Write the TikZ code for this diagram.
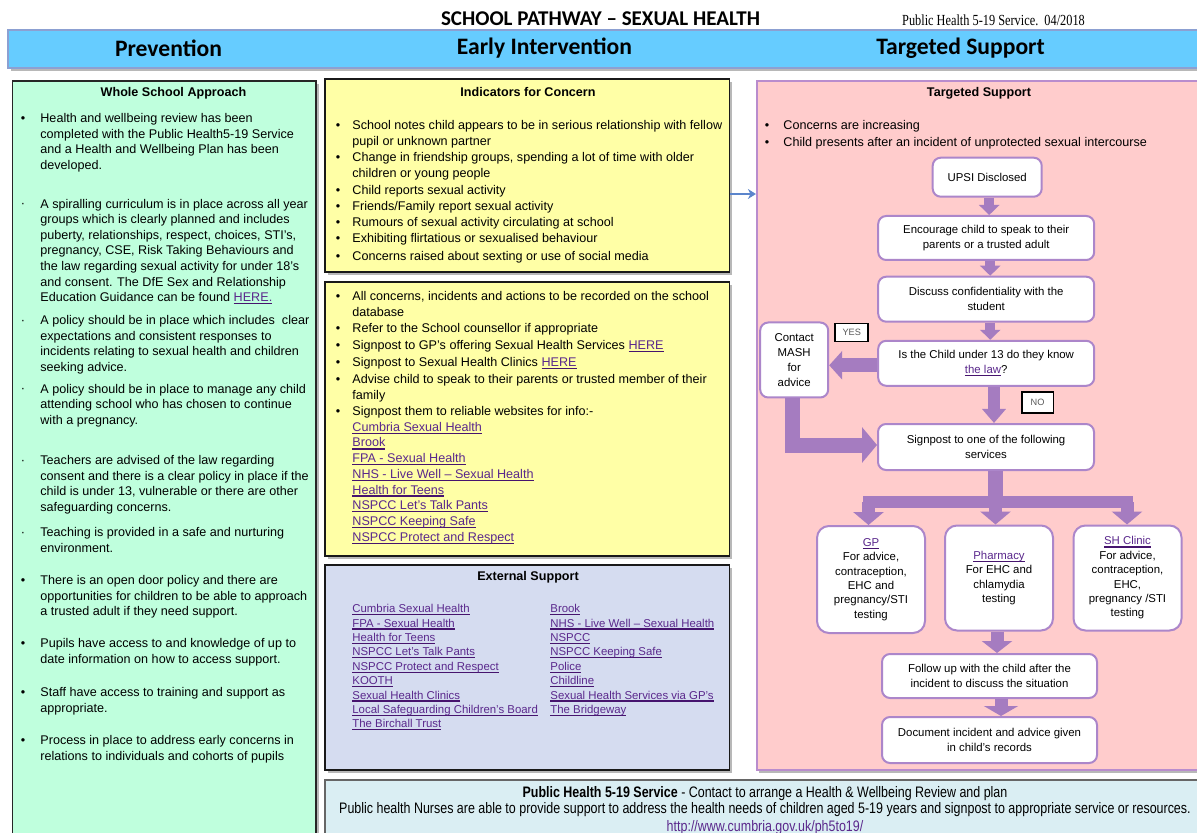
\documentclass[tikz,border=0pt]{standalone}
\usepackage{fontspec}
\setmainfont{Liberation Sans}
\newfontfamily\calb{Carlito}
\newfontfamily\tnr[FakeStretch=0.8]{Liberation Serif}
\newfontfamily\narrow[FakeStretch=0.82]{Liberation Sans}
\usetikzlibrary{arrows.meta,shadows,fit,calc}
\definecolor{bandblue}{RGB}{102,204,255}
\definecolor{bandline}{RGB}{140,160,210}
\definecolor{mint}{RGB}{191,255,221}
\definecolor{yel}{RGB}{255,255,166}
\definecolor{extc}{RGB}{213,220,240}
\definecolor{pinkc}{RGB}{255,204,204}
\definecolor{pinkline}{RGB}{185,140,205}
\definecolor{botc}{RGB}{218,238,243}
\definecolor{lnk}{RGB}{90,40,140}
\definecolor{lnkd}{RGB}{70,20,110}
\definecolor{arrp}{RGB}{165,124,192}
\definecolor{nodep}{RGB}{172,134,202}
\definecolor{bluearr}{RGB}{91,133,204}
\newsavebox\lnkbox
\newcommand\lnk[1]{\sbox\lnkbox{#1}\rlap{\color{lnkd}\rule[-1.3pt]{\wd\lnkbox}{0.6pt}}\textcolor{lnk}{#1}}
\newcommand\smd{\textperiodcentered}
\newcommand\itm[7]{%
  \node[bul,#7] (#1b) at (#2,#4+4.5) {#5};
  \node[txt,#7] (#1) at (#3,#4-5) {#6};}
\tikzset{
  panel/.style={inner sep=0pt, drop shadow={shadow xshift=1.3pt, shadow yshift=-1.3pt, fill=black!55}},
  txt/.style={anchor=north west, inner sep=0pt, align=left},
  bul/.style={anchor=base, inner sep=0pt},
  fL/.style={font=\fontsize{6.3}{7.8}\selectfont},
  fM/.style={font=\fontsize{6.3}{8.1}\selectfont},
  head/.style={inner sep=0pt, font=\bfseries\fontsize{6.3}{7.8}\selectfont},
  colhead/.style={inner sep=0pt, font=\calb\bfseries\fontsize{11.8}{13}\selectfont},
  fnode/.style={draw=nodep, line width=1pt, rounded corners=4pt, fill=white, align=center, inner sep=0pt, font=\fontsize{5.7}{7.5}\selectfont},
  snode/.style={fnode, rounded corners=6pt, font=\fontsize{5.7}{7.2}\selectfont, minimum width=54pt, minimum height=52.5pt},
  tag/.style={draw=black, line width=0.8pt, fill=white, inner sep=0pt, font=\fontsize{4.6}{5}\selectfont, text=black!65},
  blk/.style n args={4}{draw=arrp, line width=#1, -{Triangle[width=#2,length=#3]}, shorten >=#4},
  shaft/.style={draw=arrp, line width=#1},
}
\begin{document}
\begin{tikzpicture}[x=0.5pt,y=-0.5pt]
\fill[white] (0,0) rectangle (1197,833);
\useasboundingbox (0,0) rectangle (1197,833);

% title
\node[inner sep=0pt, font=\calb\bfseries\fontsize{10.5}{12}\selectfont] (title) at (600.5,19) {SCHOOL PATHWAY – SEXUAL HEALTH};
\node[inner sep=0pt, font=\tnr\fontsize{7.7}{8}\selectfont] (date) at (993.5,20.5) {Public Health 5-19 Service.\ \ 04/2018};

% band
\node[panel, fit={(8,30) (1215,68)}, fill=bandblue, draw=bandline, line width=1pt] (band) {};
\node[colhead] (hprev) at (168.5,48.5) {Prevention};
\node[colhead] (hearly) at (544.5,48.5) {Early Intervention};
\node[colhead] (htarget) at (960.5,48.5) {Targeted Support};

% panels
\node[panel, fit={(12.5,81) (316,860)}, fill=mint, draw=black!85, line width=0.7pt] (green) {};
\node[panel, fit={(325,79) (729.5,272)}, fill=yel, draw=black!90, line width=0.8pt] (ind) {};
\node[panel, fit={(325,282) (729.5,556)}, fill=yel, draw=black!90, line width=0.8pt] (act) {};
\node[panel, fit={(325,565) (729.5,770)}, fill=extc, draw=black!90, line width=0.8pt] (ext) {};
\node[panel, fit={(756.7,81) (1215,770)}, fill=pinkc, draw=pinkline, line width=0.8pt] (ts) {};
\node[panel, fit={(325,780) (1215,860)}, fill=botc, draw=black!60, line width=0.7pt] (bot) {};

% connector between columns
\coordinate (blueY) at (740,194);
\draw[bluearr, line width=1.3pt, -{Stealth[length=4pt,width=5pt]}] (ind.east |- blueY) -- (ts.west |- blueY);

% left column
\node[head] (hwsa) at (173.5,93.3) {Whole School Approach};
\itm{l1}{23}{40}{118}{\textbullet}{Health and wellbeing review has been\\completed with the Public Health5-19 Service\\and a Health and Wellbeing Plan has been\\developed.}{fL}
\itm{l2}{23}{40}{203.5}{\smd}{A spiralling curriculum is in place across all year\\groups which is clearly planned and includes\\puberty, relationships, respect, choices, STI’s,\\pregnancy, CSE, Risk Taking Behaviours and\\the law regarding sexual activity for under 18’s\\and consent. The DfE Sex and Relationship\\Education Guidance can be found \lnk{HERE.}}{fL}
\itm{l3}{23}{40}{320}{\smd}{A policy should be in place which includes\ \ clear\\expectations and consistent responses to\\incidents relating to sexual health and children\\seeking advice.}{fL}
\itm{l4}{23}{40}{388.5}{\smd}{A policy should be in place to manage any child\\attending school who has chosen to continue\\with a pregnancy.}{fL}
\itm{l5}{23}{40}{460}{\smd}{Teachers are advised of the law regarding\\consent and there is a clear policy in place if the\\child is under 13, vulnerable or there are other\\safeguarding concerns.}{fL}
\itm{l6}{23}{40}{532}{\smd}{Teaching is provided in a safe and nurturing\\environment.}{fL}
\itm{l7}{23}{40}{580}{\textbullet}{There is an open door policy and there are\\opportunities for children to be able to approach\\a trusted adult if they need support.}{fL}
\itm{l8}{23}{40}{643}{\textbullet}{Pupils have access to and knowledge of up to\\date information on how to access support.}{fL}
\itm{l9}{23}{40}{692}{\textbullet}{Staff have access to training and support as\\appropriate.}{fL}
\itm{l10}{23}{40}{740}{\textbullet}{Process in place to address early concerns in\\relations to individuals and cohorts of pupils}{fL}

% indicators
\node[head] (hind) at (528,91.7) {Indicators for Concern};
\itm{i1}{338}{352}{125}{\textbullet}{School notes child appears to be in serious relationship with fellow\\pupil or unknown partner}{fM}
\itm{i2}{338}{352}{157}{\textbullet}{Change in friendship groups, spending a lot of time with older\\children or young people}{fM}
\itm{i3}{338}{352}{190}{\textbullet}{Child reports sexual activity}{fM}
\itm{i4}{338}{352}{206}{\textbullet}{Friends/Family report sexual activity}{fM}
\itm{i5}{338}{352}{222}{\textbullet}{Rumours of sexual activity circulating at school}{fM}
\itm{i6}{338}{352}{238}{\textbullet}{Exhibiting flirtatious or sexualised behaviour}{fM}
\itm{i7}{338}{352}{256}{\textbullet}{Concerns raised about sexting or use of social media}{fM}

% actions
\itm{a1}{338}{352}{295.7}{\textbullet}{All concerns, incidents and actions to be recorded on the school\\database}{fM}
\itm{a2}{338}{352}{327.7}{\textbullet}{Refer to the School counsellor if appropriate}{fM}
\itm{a3}{338}{352}{345}{\textbullet}{Signpost to GP’s offering Sexual Health Services \lnk{HERE}}{fM}
\itm{a4}{338}{352}{361.7}{\textbullet}{Signpost to Sexual Health Clinics \lnk{HERE}}{fM}
\itm{a5}{338}{352}{379}{\textbullet}{Advise child to speak to their parents or trusted member of their\\family}{fM}
\itm{a6}{338}{352}{411}{\textbullet}{Signpost them to reliable websites for info:-\\\lnk{Cumbria Sexual Health}\\\lnk{Brook}\\\lnk{FPA - Sexual Health}\\\lnk{NHS - Live Well – Sexual Health}\\\lnk{Health for Teens}\\\lnk{NSPCC Let’s Talk Pants}\\\lnk{NSPCC Keeping Safe}\\\lnk{NSPCC Protect and Respect}}{font=\fontsize{6.3}{7.85}\selectfont}

% external support
\node[head] (hext) at (528,577) {External Support};
\node[txt, font=\fontsize{5.7}{7.2}\selectfont] (extL) at (352,604) {\lnk{Cumbria Sexual Health}\\\lnk{FPA - Sexual Health}\\\lnk{Health for Teens}\\\lnk{NSPCC Let’s Talk Pants}\\\lnk{NSPCC Protect and Respect}\\\lnk{KOOTH}\\\lnk{Sexual Health Clinics}\\\lnk{Local Safeguarding Children’s Board}\\\lnk{The Birchall Trust}};
\node[txt, font=\fontsize{5.7}{7.2}\selectfont] (extR) at (550,604) {\lnk{Brook}\\\lnk{NHS - Live Well – Sexual Health}\\\lnk{NSPCC}\\\lnk{NSPCC Keeping Safe}\\\lnk{Police}\\\lnk{Childline}\\\lnk{Sexual Health Services via GP’s}\\\lnk{The Bridgeway}};

% targeted support
\node[head] (hts) at (979,93.3) {Targeted Support};
\itm{t1}{767}{783}{125}{\textbullet}{Concerns are increasing}{fM}
\itm{t2}{767}{783}{141.7}{\textbullet}{Child presents after an incident of unprotected sexual intercourse}{fM}

% flow chart
\node[fnode, minimum width=54.5pt, minimum height=19.5pt] (upsi) at (987.2,177.2) {UPSI Disclosed};
\node[fnode, minimum width=108pt, minimum height=22pt] (enc) at (986.2,238) {Encourage child to speak to their\\parents or a trusted adult};
\node[fnode, minimum width=108pt, minimum height=22.5pt] (disc) at (986.2,299.2) {Discuss confidentiality with the\\student};
\node[fnode, minimum width=108pt, minimum height=22.5pt] (isch) at (986.2,363.3) {Is the Child under 13 do they know\\\lnk{the law}?};
\node[fnode, minimum width=34pt, minimum height=37.5pt] (mash) at (794.2,360) {Contact\\MASH\\for\\advice};
\node[tag, minimum width=16.5pt, minimum height=9pt] (yes) at (851.7,332.5) {YES};
\node[tag, minimum width=15.8pt, minimum height=10.5pt] (no) at (1037.5,402.3) {NO};
\node[fnode, minimum width=108pt, minimum height=23pt] (sign) at (986,447) {Signpost to one of the following\\services};
\node[snode, minimum height=53.5pt] (gp) at (871,579.5) {\lnk{GP}\\For advice,\\contraception,\\EHC and\\pregnancy/STI\\testing};
\node[snode] (pharm) at (999,578) {\lnk{Pharmacy}\\For EHC and\\chlamydia\\testing};
\node[snode] (sh) at (1127.5,578) {\lnk{SH Clinic}\\For advice,\\contraception,\\EHC,\\pregnancy /STI\\testing};
\node[fnode, minimum width=107.5pt, minimum height=22pt] (fol) at (989.5,676) {Follow up with the child after the\\incident to discuss the situation};
\node[fnode, minimum width=107.5pt, minimum height=23pt] (doc) at (989.5,740) {Document incident and advice given\\in child’s records};

% block arrows
\draw[blk={4.8pt}{10pt}{5pt}{0pt}] ([xshift=1pt]upsi.south) -- ([xshift=1pt]upsi.south |- enc.north);
\draw[blk={4.8pt}{10pt}{5pt}{0pt}] ([xshift=2pt]enc.south) -- ([xshift=2pt]enc.south |- disc.north);
\draw[blk={4.8pt}{10pt}{5pt}{0pt}] ([xshift=2pt]disc.south) -- ([xshift=2pt]disc.south |- isch.north);
\draw[blk={6pt}{11.5pt}{7pt}{0pt}] ([xshift=3.9pt]isch.south) -- ([xshift=3.9pt]isch.south |- sign.north);
\draw[blk={7pt}{14pt}{6.5pt}{0pt}] ([yshift=-1pt]isch.west) -- ([yshift=-1pt]isch.west -| mash.east);
\draw[blk={7.5pt}{17.5pt}{7.5pt}{0pt}] ([xshift=-0.8pt]mash.south) |- ([yshift=1pt]sign.west);
\coordinate (bar) at (995.5,502);
\coordinate (barL) at (868.5,502);
\coordinate (barR) at (1127,502);
\draw[shaft=7.5pt] ([xshift=4.75pt]sign.south) -- (bar);
\draw[shaft=6pt, line cap=rect] (barL) -- (barR);
\draw[blk={6.5pt}{15pt}{6.5pt}{0pt}] (barL) -- (barL |- gp.north);
\draw[blk={6.5pt}{15pt}{6.5pt}{0pt}] (bar) -- (bar |- pharm.north);
\draw[blk={6.5pt}{15pt}{6.5pt}{0pt}] (barR) -- (barR |- sh.north);
\draw[blk={6.5pt}{15pt}{6pt}{0pt}] ([xshift=-1pt]pharm.south) -- ([xshift=-1pt]pharm.south |- fol.north);
\draw[blk={6.5pt}{17pt}{5pt}{0pt}] ([xshift=5.75pt]fol.south) -- ([xshift=5.75pt]fol.south |- doc.north);

% bottom
\node[inner sep=0pt, align=center, font=\narrow\fontsize{7.6}{8.2}\selectfont] (botT) at (765,810.5) {\textbf{Public Health 5-19 Service} - Contact to arrange a Health \& Wellbeing Review and plan\\Public health Nurses are able to provide support to address the health needs of children aged 5-19 years and signpost to appropriate service or resources.\\[1pt]\lnk{http://www.cumbria.gov.uk/ph5to19/}};
\end{tikzpicture}
\end{document}
